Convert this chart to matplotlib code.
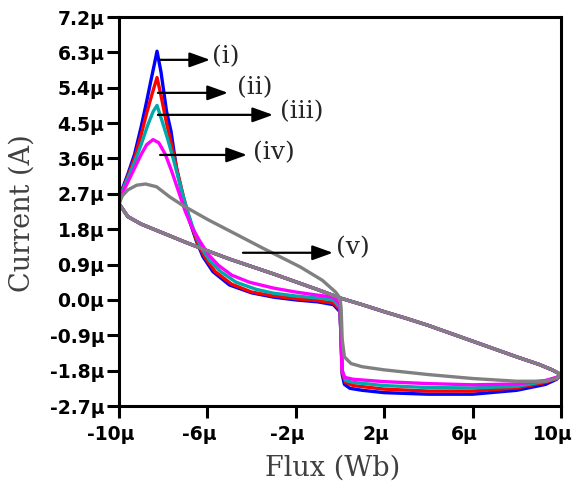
import numpy as np
import matplotlib
matplotlib.use("Agg")
import matplotlib.pyplot as plt
from matplotlib.transforms import ScaledTranslation, blended_transform_factory

# Flux in micro-Wb, current in micro-A
# shared return path, from (10, -1.9) back to (-10, 2.45)
flux_ret = [10, 9.6, 9, 8, 7, 6, 5, 4, 3, 2, 1, 0, -1, -2, -3, -4, -5, -6, -7, -8, -9, -9.6, -10]
cur_ret = [-1.9, -1.78, -1.64, -1.45, -1.25, -1.05, -0.85, -0.65, -0.47, -0.3, -0.12, 0.05,
           0.26, 0.46, 0.66, 0.85, 1.04, 1.25, 1.47, 1.7, 1.93, 2.12, 2.45]

# forward branches, from (-10, 2.45) to (10, -1.9)
flux_i = [-10, -9.9, -9.6, -9.3, -9.0, -8.75, -8.55, -8.4, -8.28, -8.1, -7.85, -7.65, -7.4, -7.1,
          -6.8, -6.5, -6.2, -5.75, -5.0, -4.0, -3.0, -2, -1, -0.3, 0, 0.05, 0.1, 0.2, 0.45, 1, 2, 4,
          6, 8, 9.3, 9.8, 10]
cur_i = [2.45, 2.75, 3.2, 3.7, 4.4, 5.05, 5.6, 6.0, 6.33, 5.8, 4.8, 4.3, 3.35, 2.6,
         2.0, 1.5, 1.1, 0.72, 0.38, 0.18, 0.07, 0.0, -0.05, -0.12, -0.3, -1.0, -1.9, -2.15, -2.25,
         -2.3, -2.36, -2.4, -2.4, -2.3, -2.15, -2.02, -1.9]

flux_ii = [-10, -9.9, -9.6, -9.3, -9.0, -8.75, -8.5, -8.28, -8.1, -7.85, -7.6, -7.35, -7.05, -6.75,
           -6.45, -6.1, -5.65, -4.9, -4, -3, -2, -1, -0.3, 0, 0.05, 0.1, 0.25, 0.6, 2, 4, 6, 8, 9.3,
           9.8, 10]
cur_ii = [2.45, 2.72, 3.15, 3.6, 4.2, 4.75, 5.25, 5.66, 5.2, 4.5, 3.9, 3.25, 2.55, 1.95,
          1.45, 1.07, 0.72, 0.4, 0.2, 0.1, 0.03, -0.02, -0.08, -0.25, -1.0, -1.85, -2.1, -2.18,
          -2.27, -2.32, -2.32, -2.24, -2.1, -2.0, -1.9]

flux_iii = [-10, -9.9, -9.6, -9.3, -9.0, -8.7, -8.45, -8.28, -8.05, -7.8, -7.5, -7.2, -6.9, -6.6,
            -6.3, -5.9, -5.4, -4.7, -3.8, -3, -2, -1, -0.3, 0, 0.05, 0.1, 0.25, 0.6, 2, 4, 6, 8,
            9.3, 9.8, 10]
cur_iii = [2.45, 2.7, 3.1, 3.5, 3.95, 4.45, 4.8, 4.95, 4.55, 4.1, 3.5, 2.85, 2.25, 1.75,
           1.35, 1.0, 0.72, 0.45, 0.27, 0.17, 0.1, 0.05, 0.0, -0.2, -1.0, -1.8, -2.05, -2.1,
           -2.18, -2.23, -2.24, -2.2, -2.07, -1.98, -1.9]

flux_iv = [-10, -9.9, -9.6, -9.3, -9.0, -8.75, -8.46, -8.2, -7.9, -7.6, -7.3, -7.0, -6.7, -6.35,
           -5.95, -5.5, -4.9, -4.1, -3, -2, -1, -0.3, 0, 0.05, 0.08, 0.2, 0.6, 2, 4, 6, 8, 9.3,
           9.8, 10]
cur_iv = [2.45, 2.65, 3.0, 3.35, 3.7, 3.95, 4.08, 4.0, 3.7, 3.25, 2.75, 2.25, 1.85, 1.5,
          1.15, 0.88, 0.63, 0.45, 0.3, 0.2, 0.12, 0.07, -0.1, -1.0, -1.75, -1.97, -2.02, -2.08,
          -2.13, -2.16, -2.14, -2.05, -1.97, -1.9]

flux_v = [-10, -9.85, -9.6, -9.2, -8.8, -8.3, -7.7, -7.1, -6.0, -4.8, -3.5, -1.8, -0.8, -0.2,
          0.0, 0.05, 0.1, 0.2, 0.5, 1.0, 2.0, 4, 6, 8, 9.3, 9.8, 10]
cur_v = [2.45, 2.65, 2.8, 2.92, 2.95, 2.88, 2.62, 2.4, 2.05, 1.7, 1.32, 0.84, 0.5, 0.2,
         0.05, -0.2, -1.0, -1.45, -1.62, -1.7, -1.78, -1.9, -2.0, -2.07, -2.07, -2.0, -1.9]

curves = [(flux_i, cur_i, "#0000ff"), (flux_ii, cur_ii, "#ff0000"),
          (flux_iii, cur_iii, "#00aaaa"), (flux_iv, cur_iv, "#ff00ff"),
          (flux_v, cur_v, "#808080")]

# labels: (text, arrow tail, arrow tip, text position)
labels = ["(i)", "(ii)", "(iii)", "(iv)", "(v)"]
arrow_tail = [(-8.14, 6.11), (-8.24, 5.27), (-8.24, 4.71), (-8.14, 3.69), (-4.39, 1.2)]
arrow_tip = [(-5.88, 6.11), (-5.07, 5.27), (-3.03, 4.71), (-4.21, 3.69), (-0.32, 1.2)]
text_pos = [(-5.8, 6.2), (-4.65, 5.4), (-2.7, 4.78), (-3.95, 3.75), (-0.2, 1.33)]

yticks = [-2.7, -1.8, -0.9, 0.0, 0.9, 1.8, 2.7, 3.6, 4.5, 5.4, 6.3, 7.2]
ytick_labels = ["-2.7μ", "-1.8μ", "-0.9μ", "0.0μ", "0.9μ", "1.8μ", "2.7μ", "3.6μ",
                "4.5μ", "5.4μ", "6.3μ", "7.2μ"]
xticks = [-10, -6, -2, 2, 6, 10]
xtick_labels = ["-10μ", "-6μ", "-2μ", "2μ", "6μ", "10μ"]

fig = plt.figure(figsize=(5.73, 4.86), dpi=100)
ax = fig.add_axes([0.2077, 0.1646, 0.7713, 0.8004])

for fx, cu, col in curves:
    x = np.concatenate([fx, flux_ret])
    y = np.concatenate([cu, cur_ret])
    ax.plot(x, y, color=col, lw=2.4, solid_joinstyle="round", solid_capstyle="round")

for lab, tail, tip, tp in zip(labels, arrow_tail, arrow_tip, text_pos):
    ax.annotate("", xy=tip, xytext=tail,
                arrowprops=dict(arrowstyle="-|>,head_length=1.25,head_width=0.45",
                                color="black", lw=1.6, shrinkA=0, shrinkB=0))
    ax.text(tp[0], tp[1], lab, fontsize=18, family="DejaVu Serif",
            color="#262626", ha="left", va="center")

ax.set_xlim(-10, 10)
ax.set_ylim(-2.7, 7.2)
ax.set_xticks(xticks)
ax.set_xticklabels([])
ax.set_yticks(yticks)
ax.set_yticklabels(ytick_labels)
for lbl in ax.get_yticklabels():
    lbl.set_fontweight("bold")
    lbl.set_fontsize(13.5)
    lbl.set_family("DejaVu Sans")
ax.tick_params(direction="out", length=8.5, width=2.2, pad=2)
for s in ax.spines.values():
    s.set_linewidth(2.2)

# x tick labels sit a little left of their ticks in the original
xlab_trans = blended_transform_factory(ax.transData, ax.transAxes) + \
    ScaledTranslation(-8 / 100, -19 / 100, fig.dpi_scale_trans)
for xv, xl in zip(xticks, xtick_labels):
    ax.text(xv, 0, xl, transform=xlab_trans, ha="center", va="top",
            fontsize=13.5, fontweight="bold", family="DejaVu Sans", clip_on=False)

fig.text(0.038, 0.562, "Current (A)", rotation=90, ha="center", va="center",
         fontsize=19.5, family="DejaVu Serif", color="#404040")
fig.text(0.58, 0.037, "Flux (Wb)", ha="center", va="center",
         fontsize=19.5, family="DejaVu Serif", color="#404040")

fig.savefig("out.png", dpi=100)
